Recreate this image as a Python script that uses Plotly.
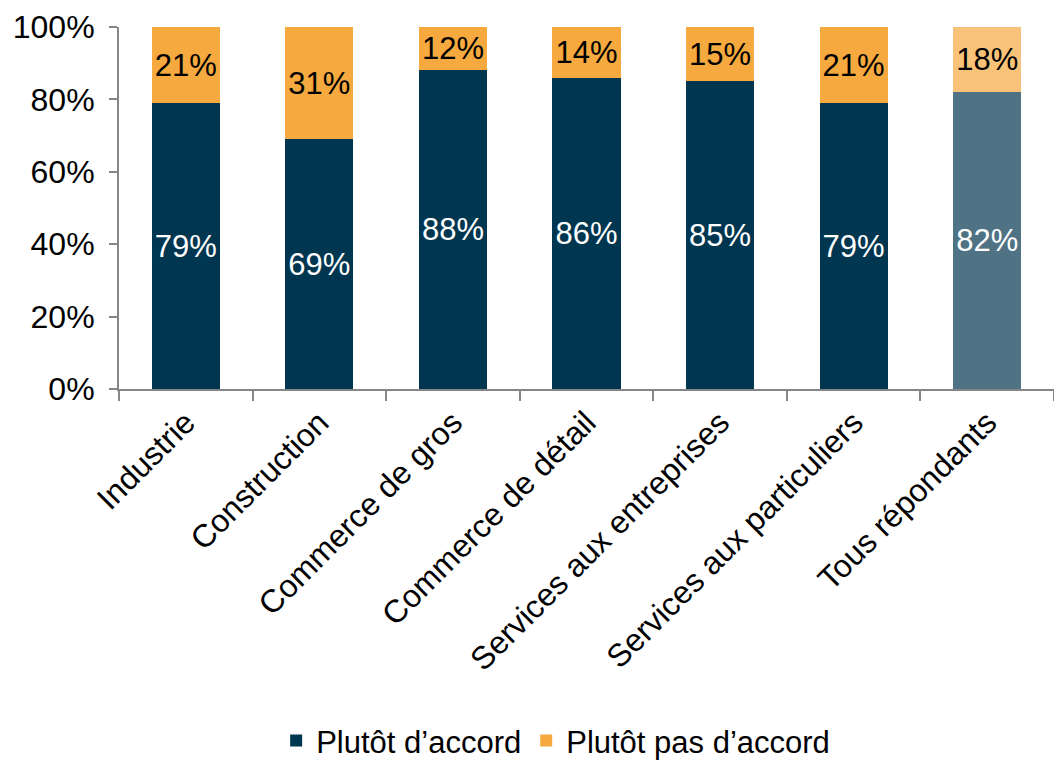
import plotly.graph_objects as go

categories = ["Industrie", "Construction", "Commerce de gros", "Commerce de détail",
              "Services aux entreprises", "Services aux particuliers", "Tous répondants"]
accord = [79, 69, 88, 86, 85, 79, 82]
pas_accord = [21, 31, 12, 14, 15, 21, 18]

dark = ["#003650"] * 6 + ["#4F7385"]
orange = ["#F5A93F"] * 6 + ["#F8C378"]

FONT = "Liberation Sans, Arial, sans-serif"

fig = go.Figure()
fig.add_trace(go.Bar(
    x=categories, y=accord, name="Plutôt d’accord",
    marker=dict(color=dark, line=dict(width=0)),
    text=[f"{v}%" for v in accord], textposition="inside", insidetextanchor="middle",
    textfont=dict(color="white", size=31, family=FONT), textangle=0,
    width=0.51,
))
fig.add_trace(go.Bar(
    x=categories, y=pas_accord, name="Plutôt pas d’accord",
    marker=dict(color=orange, line=dict(width=0)),
    text=[f"{v}%" for v in pas_accord], textposition="inside", insidetextanchor="middle",
    textfont=dict(color="black", size=31, family=FONT), textangle=0,
    width=0.51,
))

fig.update_layout(
    barmode="stack",
    width=1054, height=763,
    margin=dict(l=119, r=0, t=27, b=374, autoexpand=False),
    paper_bgcolor="white", plot_bgcolor="white",
    font=dict(family=FONT, size=31, color="black"),
    uniformtext=dict(minsize=10, mode=False),
    showlegend=True,
    legend=dict(orientation="h", x=0.467, xanchor="center", y=-0.972, yanchor="middle",
                font=dict(size=31, family=FONT), itemsizing="constant",
                traceorder="normal"),
    xaxis=dict(
        type="category", tickson="boundaries", ticks="outside", ticklen=10,
        tickcolor="#868686", tickwidth=2, showline=True, linecolor="#868686", linewidth=2,
        tickangle=-45, tickfont=dict(size=32, family=FONT), showgrid=False, automargin=False,
    ),
    yaxis=dict(
        range=[0, 100], tickvals=[0, 20, 40, 60, 80, 100],
        ticktext=["0%", "20%", "40%", "60%", "80%", "100%"],
        ticks="outside", ticklen=8, tickcolor="#868686", tickwidth=2,
        showline=True, linecolor="#868686", linewidth=2, showgrid=False, zeroline=False,
        tickfont=dict(size=32, family=FONT), ticklabelstandoff=8, automargin=False,
    ),
)

fig.write_html("out.html")
